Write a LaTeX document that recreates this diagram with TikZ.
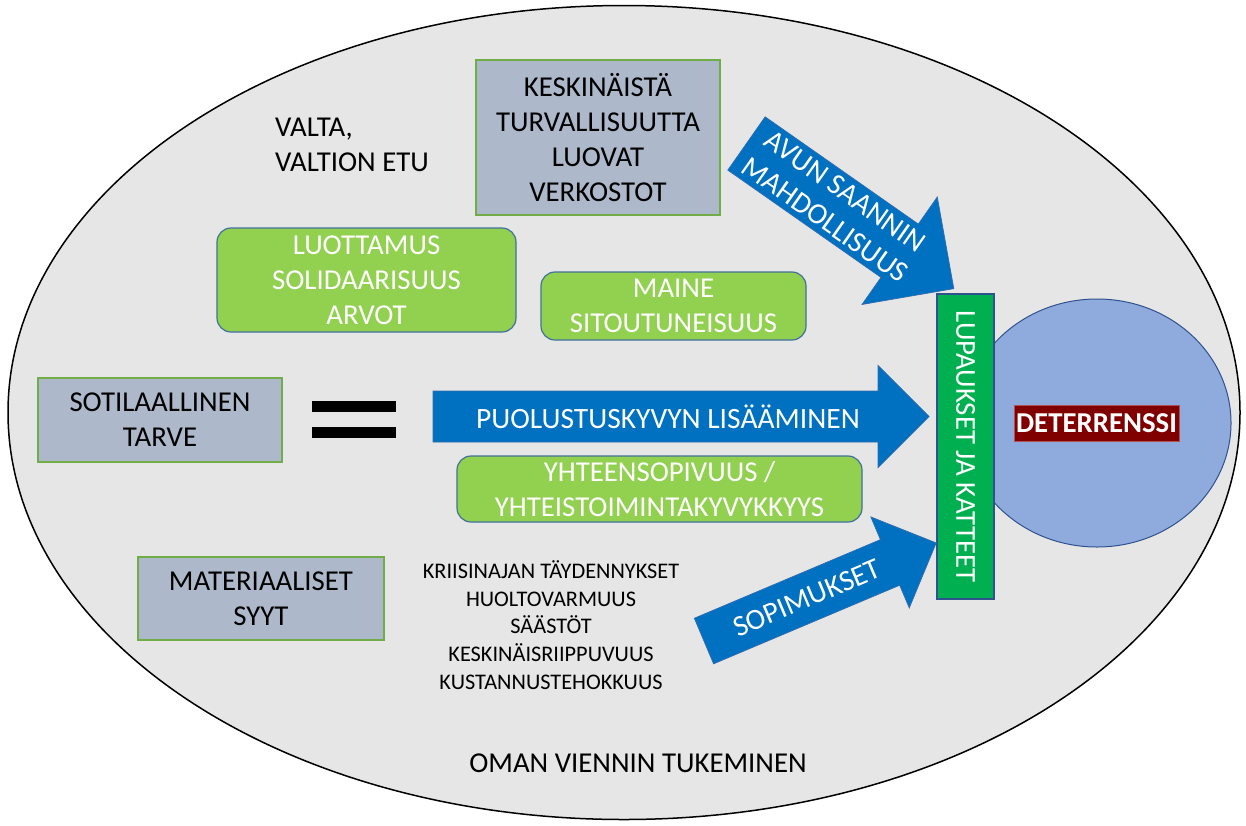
\documentclass[tikz,border=0pt]{standalone}
\usepackage{fontspec}
\setmainfont{Carlito}
\definecolor{bg}{HTML}{E6E6E6}
\definecolor{slate}{HTML}{ADB9CA}
\definecolor{slateline}{HTML}{70AD47}
\definecolor{leaf}{HTML}{92D050}
\definecolor{leafline}{HTML}{41719C}
\definecolor{arrowblue}{HTML}{0070C0}
\definecolor{arrowline}{HTML}{2E6DB0}
\definecolor{barfill}{HTML}{00B050}
\definecolor{disc}{HTML}{8FAADC}
\definecolor{discline}{HTML}{2F528F}
\definecolor{maroon}{HTML}{800000}
\definecolor{maroonline}{HTML}{B05050}

\tikzset{
  txt/.style={font=\fontsize{28.8}{35}\selectfont, align=center, inner sep=0pt},
  slatebox/.style={txt, draw=slateline, line width=1.2pt, fill=slate},
  leafbox/.style={txt, draw=leafline, line width=1.2pt, fill=leaf, rounded corners=14pt, text=white},
  arrowshape/.style={fill=arrowblue, draw=arrowline, line width=0.8pt},
  arrowtext/.style={font=\fontsize{29.5}{35}\selectfont, align=center, text=white, inner sep=0pt},
  eqbar/.style={fill=black, minimum width=84pt, minimum height=11pt, inner sep=0pt},
}

% block arrow: tail midpoint, angle, length, half body width, half head width, head length
\newcommand\blockarrow[6]{%
  \begin{scope}[shift={#1}, rotate=#2]
    \path[arrowshape] (0,-#4) -- ({#3-#6},-#4) -- ({#3-#6},-#5) -- (#3,0)
      -- ({#3-#6},#5) -- ({#3-#6},#4) -- (0,#4) -- cycle;
  \end{scope}}

\begin{document}
\begin{tikzpicture}[x=1pt, y=-1pt]
  \useasboundingbox (0,0) rectangle (1246,825);

  % outer field
  \draw[fill=bg, line width=1.5pt] (624,412.5) ellipse [x radius=616pt, y radius=407pt];

  % deterrence disc and the bar in front of it
  \fill[disc, draw=discline, line width=1pt] (1097,423) ellipse [x radius=134pt, y radius=124pt];
  \node[draw=discline, fill=barfill, line width=1.2pt, minimum width=305pt, minimum height=57pt,
        inner sep=0pt, rotate=-90, txt, text=white] (bar) at (965.5,446.5) {LUPAUKSET JA KATTEET};
  \node[fill=maroon, draw=maroonline, line width=0.6pt, minimum width=165pt, minimum height=36pt,
        inner sep=0pt, text=white, font=\fontsize{28.8}{35}\selectfont\bfseries] (det) at (1096.5,423) {DETERRENSSI};

  % block arrows
  \blockarrow{(746.5,143.5)}{-35}{253}{32.5}{65.5}{66}
  \blockarrow{(433,416.5)}{0}{496}{25.5}{51}{51}
  \blockarrow{(704,641)}{22.9}{252}{24.7}{49.3}{50}
  \node[arrowtext, rotate=-35] (helplabel) at (835,205.5) {AVUN SAANNIN\\MAHDOLLISUUS};
  \node[arrowtext] (defencelabel) at (668,417) {PUOLUSTUSKYVYN LISÄÄMINEN};
  \node[arrowtext, rotate=22.9] (dealslabel) at (807,598) {SOPIMUKSET};

  % boxes
  \node[slatebox, minimum width=244pt, minimum height=155pt] (net) at (598,137.5)
    {KESKINÄISTÄ\\TURVALLISUUTTA\\LUOVAT\\VERKOSTOT};
  \node[slatebox, minimum width=244pt, minimum height=84pt] (mil) at (160,420)
    {SOTILAALLINEN\\TARVE};
  \node[slatebox, minimum width=246pt, minimum height=83pt] (mat) at (261,598.5)
    {MATERIAALISET\\SYYT};
  \node[leafbox, minimum width=299pt, minimum height=104pt] (trust) at (366.5,280)
    {LUOTTAMUS\\SOLIDAARISUUS\\ARVOT};
  \node[leafbox, minimum width=265pt, minimum height=68pt] (fame) at (673.5,306)
    {MAINE\\SITOUTUNEISUUS};
  \node[leafbox, minimum width=405pt, minimum height=66pt] (interop) at (659.5,489)
    {YHTEENSOPIVUUS /\\YHTEISTOIMINTAKYVYKKYYS};

  % equals sign
  \node[eqbar] (eqtop) at (354,406.5) {};
  \node[eqbar] (eqbottom) at (354,432.5) {};

  % free texts
  \node[txt, align=left, anchor=west] (power) at (275,144.5) {VALTA,\\VALTION ETU};
  \node[font=\fontsize{22.3}{27.75}\selectfont, align=center, inner sep=0pt] (list) at (551,625)
    {KRIISINAJAN TÄYDENNYKSET\\HUOLTOVARMUUS\\SÄÄSTÖT\\KESKINÄISRIIPPUVUUS\\KUSTANNUSTEHOKKUUS};
  \node[txt] (export) at (638,763) {OMAN VIENNIN TUKEMINEN};
\end{tikzpicture}
\end{document}
